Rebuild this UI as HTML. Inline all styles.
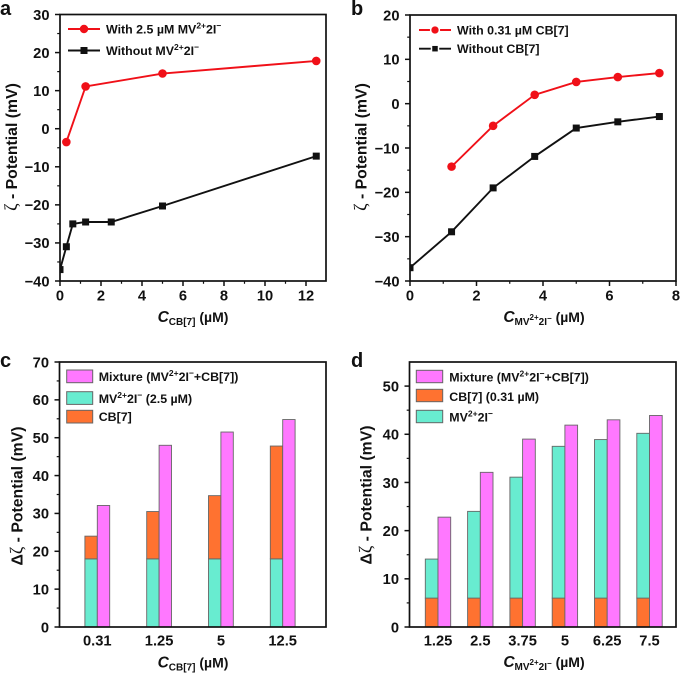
<!DOCTYPE html>
<html lang="en">
<head>
<meta charset="utf-8">
<title>Zeta potential charts</title>
<style>
html,body{margin:0;padding:0;background:#fff;}
svg{display:block;filter:blur(0.3px);}
text{font-family:"Liberation Sans",sans-serif;font-weight:700;fill:#111;}
.tick{font-size:14.7px;}
.leg{font-size:12.4px;}
.title{font-size:14px;}
.ytitle{font-size:15.8px;}
.panel{font-size:20px;}
.serif{font-family:"Liberation Serif",serif;font-weight:400;font-size:18px;}
</style>
</head>
<body>
<svg id="fig" xmlns="http://www.w3.org/2000/svg" width="680" height="673" viewBox="0 0 680 673">
  <defs>
    <clipPath id="clip-a"><rect x="60" y="0" width="280" height="300"/></clipPath>
    <clipPath id="clip-b"><rect x="410" y="0" width="270" height="300"/></clipPath>
  </defs>
  <text class="panel" x="0" y="15">a</text>
  <text class="panel" x="351" y="15">b</text>
  <text class="panel" x="0" y="367">c</text>
  <text class="panel" x="351" y="367">d</text>

  <text class="ytitle" transform="translate(17,147) rotate(-90)" text-anchor="middle"><tspan class="serif">ζ</tspan> - Potential (mV)</text>
  <text class="ytitle" transform="translate(366.5,147) rotate(-90)" text-anchor="middle"><tspan class="serif">ζ</tspan> - Potential (mV)</text>
  <text class="ytitle" transform="translate(22.5,496) rotate(-90)" text-anchor="middle">Δ<tspan class="serif">ζ</tspan> - Potential (mV)</text>
  <text class="ytitle" transform="translate(371.5,495) rotate(-90)" text-anchor="middle">Δ<tspan class="serif">ζ</tspan> - Potential (mV)</text>

  <text class="title" x="193" y="322" text-anchor="middle"><tspan font-style="italic" font-size="15.5">C</tspan><tspan font-size="10" dy="3">CB[7]</tspan><tspan dy="-3"> (µM)</tspan></text>
  <text class="title" x="544" y="322" text-anchor="middle"><tspan font-style="italic" font-size="15.5">C</tspan><tspan font-size="10" dy="3">MV</tspan><tspan font-size="8" dy="-5">2+</tspan><tspan font-size="10" dy="5">2I</tspan><tspan font-size="8" dy="-4">−</tspan><tspan dy="1"> (µM)</tspan></text>
  <text class="title" x="193" y="667.5" text-anchor="middle"><tspan font-style="italic" font-size="15.5">C</tspan><tspan font-size="10" dy="3">CB[7]</tspan><tspan dy="-3"> (µM)</tspan></text>
  <text class="title" x="544" y="667" text-anchor="middle"><tspan font-style="italic" font-size="15.5">C</tspan><tspan font-size="10" dy="3">MV</tspan><tspan font-size="8" dy="-5">2+</tspan><tspan font-size="10" dy="5">2I</tspan><tspan font-size="8" dy="-4">−</tspan><tspan dy="1"> (µM)</tspan></text>

  <g id="plots"></g>

  <g>
    <line x1="68" y1="29" x2="100" y2="29" stroke="#f01018" stroke-width="1.9"/>
    <circle cx="84" cy="29" r="4.2" fill="#f01018"/>
    <text class="leg" x="106" y="33.5">With 2.5 µM MV<tspan font-size="8.5" dy="-5">2+</tspan><tspan dy="5">2I</tspan><tspan font-size="8.5" dy="-5">−</tspan></text>
    <line x1="68" y1="50.5" x2="100" y2="50.5" stroke="#111" stroke-width="1.9"/>
    <rect x="80.5" y="47" width="7" height="7" fill="#111"/>
    <text class="leg" x="106" y="55">Without MV<tspan font-size="8.5" dy="-5">2+</tspan><tspan dy="5">2I</tspan><tspan font-size="8.5" dy="-5">−</tspan></text>
  </g>
  <g>
    <line x1="419" y1="30" x2="451" y2="30" stroke="#f01018" stroke-width="1.9"/>
    <circle cx="435" cy="30" r="4.4" fill="#f01018" stroke="#fff" stroke-width="1.5"/>
    <text class="leg" x="457" y="34.5">With 0.31 µM CB[7]</text>
    <line x1="419" y1="48.7" x2="451" y2="48.7" stroke="#111" stroke-width="1.9"/>
    <rect x="431.5" y="45.2" width="7" height="7" fill="#111" stroke="#fff" stroke-width="1.5"/>
    <text class="leg" x="457" y="53">Without CB[7]</text>
  </g>
  <g stroke-width="1">
    <rect x="66.7" y="370" width="26" height="12.7" fill="#ff78ff" stroke="#666"/>
    <text class="leg" x="98.7" y="381">Mixture (MV<tspan font-size="8.5" dy="-5">2+</tspan><tspan dy="5">2I</tspan><tspan font-size="8.5" dy="-5">−</tspan><tspan dy="5">+CB[7])</tspan></text>
    <rect x="66.7" y="391.7" width="26" height="12.7" fill="#68ecd0" stroke="#666"/>
    <text class="leg" x="98.7" y="403">MV<tspan font-size="8.5" dy="-5">2+</tspan><tspan dy="5">2I</tspan><tspan font-size="8.5" dy="-5">−</tspan><tspan dy="5"> (2.5 µM)</tspan></text>
    <rect x="66.7" y="410.3" width="26" height="12.7" fill="#ff7230" stroke="#666"/>
    <text class="leg" x="98.7" y="421">CB[7]</text>
  </g>
  <g stroke-width="1">
    <rect x="416.3" y="370.3" width="26.4" height="12.4" fill="#ff78ff" stroke="#666"/>
    <text class="leg" x="449.3" y="381.5">Mixture (MV<tspan font-size="8.5" dy="-5">2+</tspan><tspan dy="5">2I</tspan><tspan font-size="8.5" dy="-5">−</tspan><tspan dy="5">+CB[7])</tspan></text>
    <rect x="416.3" y="389.3" width="26.4" height="12.4" fill="#ff7230" stroke="#666"/>
    <text class="leg" x="449.3" y="401">CB[7] (0.31 µM)</text>
    <rect x="416.3" y="410.3" width="26.4" height="12.4" fill="#68ecd0" stroke="#666"/>
    <text class="leg" x="449.3" y="421.5">MV<tspan font-size="8.5" dy="-5">2+</tspan><tspan dy="5">2I</tspan><tspan font-size="8.5" dy="-5">−</tspan></text>
  </g>
</svg>
<script>
// Panel a data
const aRedX = [0.31, 1.25, 5, 12.5];
const aRedY = [-3.5, 11.1, 14.5, 17.8];
const aBlackX = [0, 0.31, 0.625, 1.25, 2.5, 5, 12.5];
const aBlackY = [-37, -31, -25, -24.5, -24.5, -20.3, -7.2];
const aXTicks = [0, 2, 4, 6, 8, 10, 12];
const aYTicks = [-40, -30, -20, -10, 0, 10, 20, 30];
// Panel b data
const bRedX = [1.25, 2.5, 3.75, 5, 6.25, 7.5];
const bRedY = [-14.2, -5, 2, 4.9, 6, 6.9];
const bBlackX = [0, 1.25, 2.5, 3.75, 5, 6.25, 7.5];
const bBlackY = [-37, -28.9, -19, -11.9, -5.5, -4.1, -2.9];
const bXTicks = [0, 2, 4, 6, 8];
const bYTicks = [-40, -30, -20, -10, 0, 10, 20];
// Panel c data
const cCategories = ['0.31', '1.25', '5', '12.5'];
const cMV = [18, 18, 18, 18];
const cCB = [6, 12.5, 16.7, 29.8];
const cMixture = [32.1, 48, 51.5, 54.8];
const cYTicks = [0, 10, 20, 30, 40, 50, 60, 70];
// Panel d data
const dCategories = ['1.25', '2.5', '3.75', '5', '6.25', '7.5'];
const dCB = [6, 6, 6, 6, 6, 6];
const dMV = [8.1, 18, 25.1, 31.5, 32.9, 34.2];
const dMixture = [22.8, 32.1, 39, 41.9, 43, 43.9];
const dYTicks = [0, 10, 20, 30, 40, 50];

const NS = 'http://www.w3.org/2000/svg';
const root = document.getElementById('plots');
const RED = '#f01018', BLACK = '#111', PINK = '#ff78ff', TEAL = '#68ecd0', ORANGE = '#ff7230';

function mk(tag, parent, attrs) {
  const el = document.createElementNS(NS, tag);
  for (const k in attrs) el.setAttribute(k, attrs[k]);
  parent.appendChild(el);
  return el;
}
function fmt(v) { return v < 0 ? '\u2212' + Math.abs(v) : String(v); }

function frame(g, box, sy, yTicks, yMinorStep) {
  const f = mk('rect', g, {x: box.l, y: box.t, width: box.r - box.l, height: box.b - box.t, fill: 'none', stroke: '#111', 'stroke-width': 1.7});
  
  
  yTicks.forEach(function (v) {
    const y = sy(v);
    const t = mk('line', g, {x1: box.l - 5, x2: box.l, y1: y, y2: y, stroke: '#111', 'stroke-width': 1.5});
    
    
    const lab = mk('text', g, {x: box.l - 10.5, y: y + 5.3, 'text-anchor': 'end', class: 'tick'});
    lab.textContent = fmt(v);
    
    
  });
  for (let i = 0; i < yTicks.length; i++) {
    const v = yTicks[i] + yMinorStep;
    if (sy(v) <= box.t + 0.5) continue;
    const m = mk('line', g, {x1: box.l - 2.8, x2: box.l, y1: sy(v), y2: sy(v), stroke: '#111', 'stroke-width': 1.2});
    
    
  }
}

function xNumeric(g, box, sx, xTicks, minorStep) {
  xTicks.forEach(function (v) {
    const x = sx(v);
    const t = mk('line', g, {x1: x, x2: x, y1: box.b, y2: box.b + 5, stroke: '#111', 'stroke-width': 1.5});
    
    
    const lab = mk('text', g, {x: x, y: 300.5, 'text-anchor': 'middle', class: 'tick'});
    lab.textContent = fmt(v);
    
    
    const mx = sx(v + minorStep);
    if (mx < box.r) {
      const m = mk('line', g, {x1: mx, x2: mx, y1: box.b, y2: box.b + 2.8, stroke: '#111', 'stroke-width': 1.2});
      
      
    }
  });
}

function series(g, xs, ys, sx, sy, color, kind, clip) {
  const sg = mk('g', g, {'clip-path': 'url(#' + clip + ')'});
  const pts = xs.map(function (x, i) { return sx(x) + ',' + sy(ys[i]); }).join(' ');
  const line = mk('polyline', sg, {points: pts, fill: 'none', stroke: color, 'stroke-width': 1.9});
  
  
  xs.forEach(function (x, i) {
    let p;
    if (kind === 'circle') {
      p = mk('circle', sg, {cx: sx(x), cy: sy(ys[i]), r: 4.3, fill: color});
    } else {
      p = mk('rect', sg, {x: sx(x) - 3.5, y: sy(ys[i]) - 3.5, width: 7, height: 7, fill: color});
    }
    
    
  });
}

function bar(g, x, w, y0, y1, fill, name) {
  const r = mk('rect', g, {x: x, y: y1, width: w, height: y0 - y1, fill: fill, stroke: '#666', 'stroke-width': 0.9});
  
  
}

function catLabels(g, box, labels, cx) {
  labels.forEach(function (s, i) {
    const lab = mk('text', g, {x: cx(i), y: 645.5, 'text-anchor': 'middle', class: 'tick'});
    lab.textContent = s;
    
    
  });
}

// Panel a
(function () {
  const box = {l: 60, r: 326, t: 14.5, b: 281};
  const sx = function (v) { return box.l + v * 20.5; };
  const sy = function (v) { return box.b - (v + 40) * (box.b - box.t) / 70; };
  const g = mk('g', root, {});
  
  
  series(g, aBlackX, aBlackY, sx, sy, BLACK, 'square', 'clip-a');
  series(g, aRedX, aRedY, sx, sy, RED, 'circle', 'clip-a');
  frame(g, box, sy, aYTicks, 5);
  xNumeric(g, box, sx, aXTicks, 1);
})();

// Panel b
(function () {
  const box = {l: 410, r: 676, t: 15, b: 281};
  const sx = function (v) { return box.l + v * (box.r - box.l) / 8; };
  const sy = function (v) { return box.b - (v + 40) * (box.b - box.t) / 60; };
  const g = mk('g', root, {});
  
  
  series(g, bBlackX, bBlackY, sx, sy, BLACK, 'square', 'clip-b');
  series(g, bRedX, bRedY, sx, sy, RED, 'circle', 'clip-b');
  frame(g, box, sy, bYTicks, 5);
  xNumeric(g, box, sx, bXTicks, 1);
})();

// Panel c
(function () {
  const box = {l: 59.5, r: 326, t: 362, b: 627};
  const sy = function (v) { return box.b - v * (box.b - box.t) / 70; };
  const cx = function (i) { return 97.3 + i * 61.8; };
  const w = 12.4;
  const g = mk('g', root, {});
  
  
  cCategories.forEach(function (c, i) {
    bar(g, cx(i) - w, w, sy(0), sy(cMV[i]), TEAL, 'bar-mv');
    bar(g, cx(i) - w, w, sy(cMV[i]), sy(cMV[i] + cCB[i]), ORANGE, 'bar-cb7');
    bar(g, cx(i), w, sy(0), sy(cMixture[i]), PINK, 'bar-mixture');
  });
  frame(g, box, sy, cYTicks, 5);
  catLabels(g, box, cCategories, cx);
})();

// Panel d
(function () {
  const box = {l: 409.5, r: 676, t: 362, b: 627};
  const sy = function (v) { return box.b - v * (box.b - box.t) / 55; };
  const cx = function (i) { return 438 + i * 42.3; };
  const w = 12.7;
  const g = mk('g', root, {});
  
  
  dCategories.forEach(function (c, i) {
    bar(g, cx(i) - w, w, sy(0), sy(dCB[i]), ORANGE, 'bar-cb7');
    bar(g, cx(i) - w, w, sy(dCB[i]), sy(dCB[i] + dMV[i]), TEAL, 'bar-mv');
    bar(g, cx(i), w, sy(0), sy(dMixture[i]), PINK, 'bar-mixture');
  });
  frame(g, box, sy, dYTicks, 5);
  catLabels(g, box, dCategories, cx);
})();
</script>
</body>
</html>
